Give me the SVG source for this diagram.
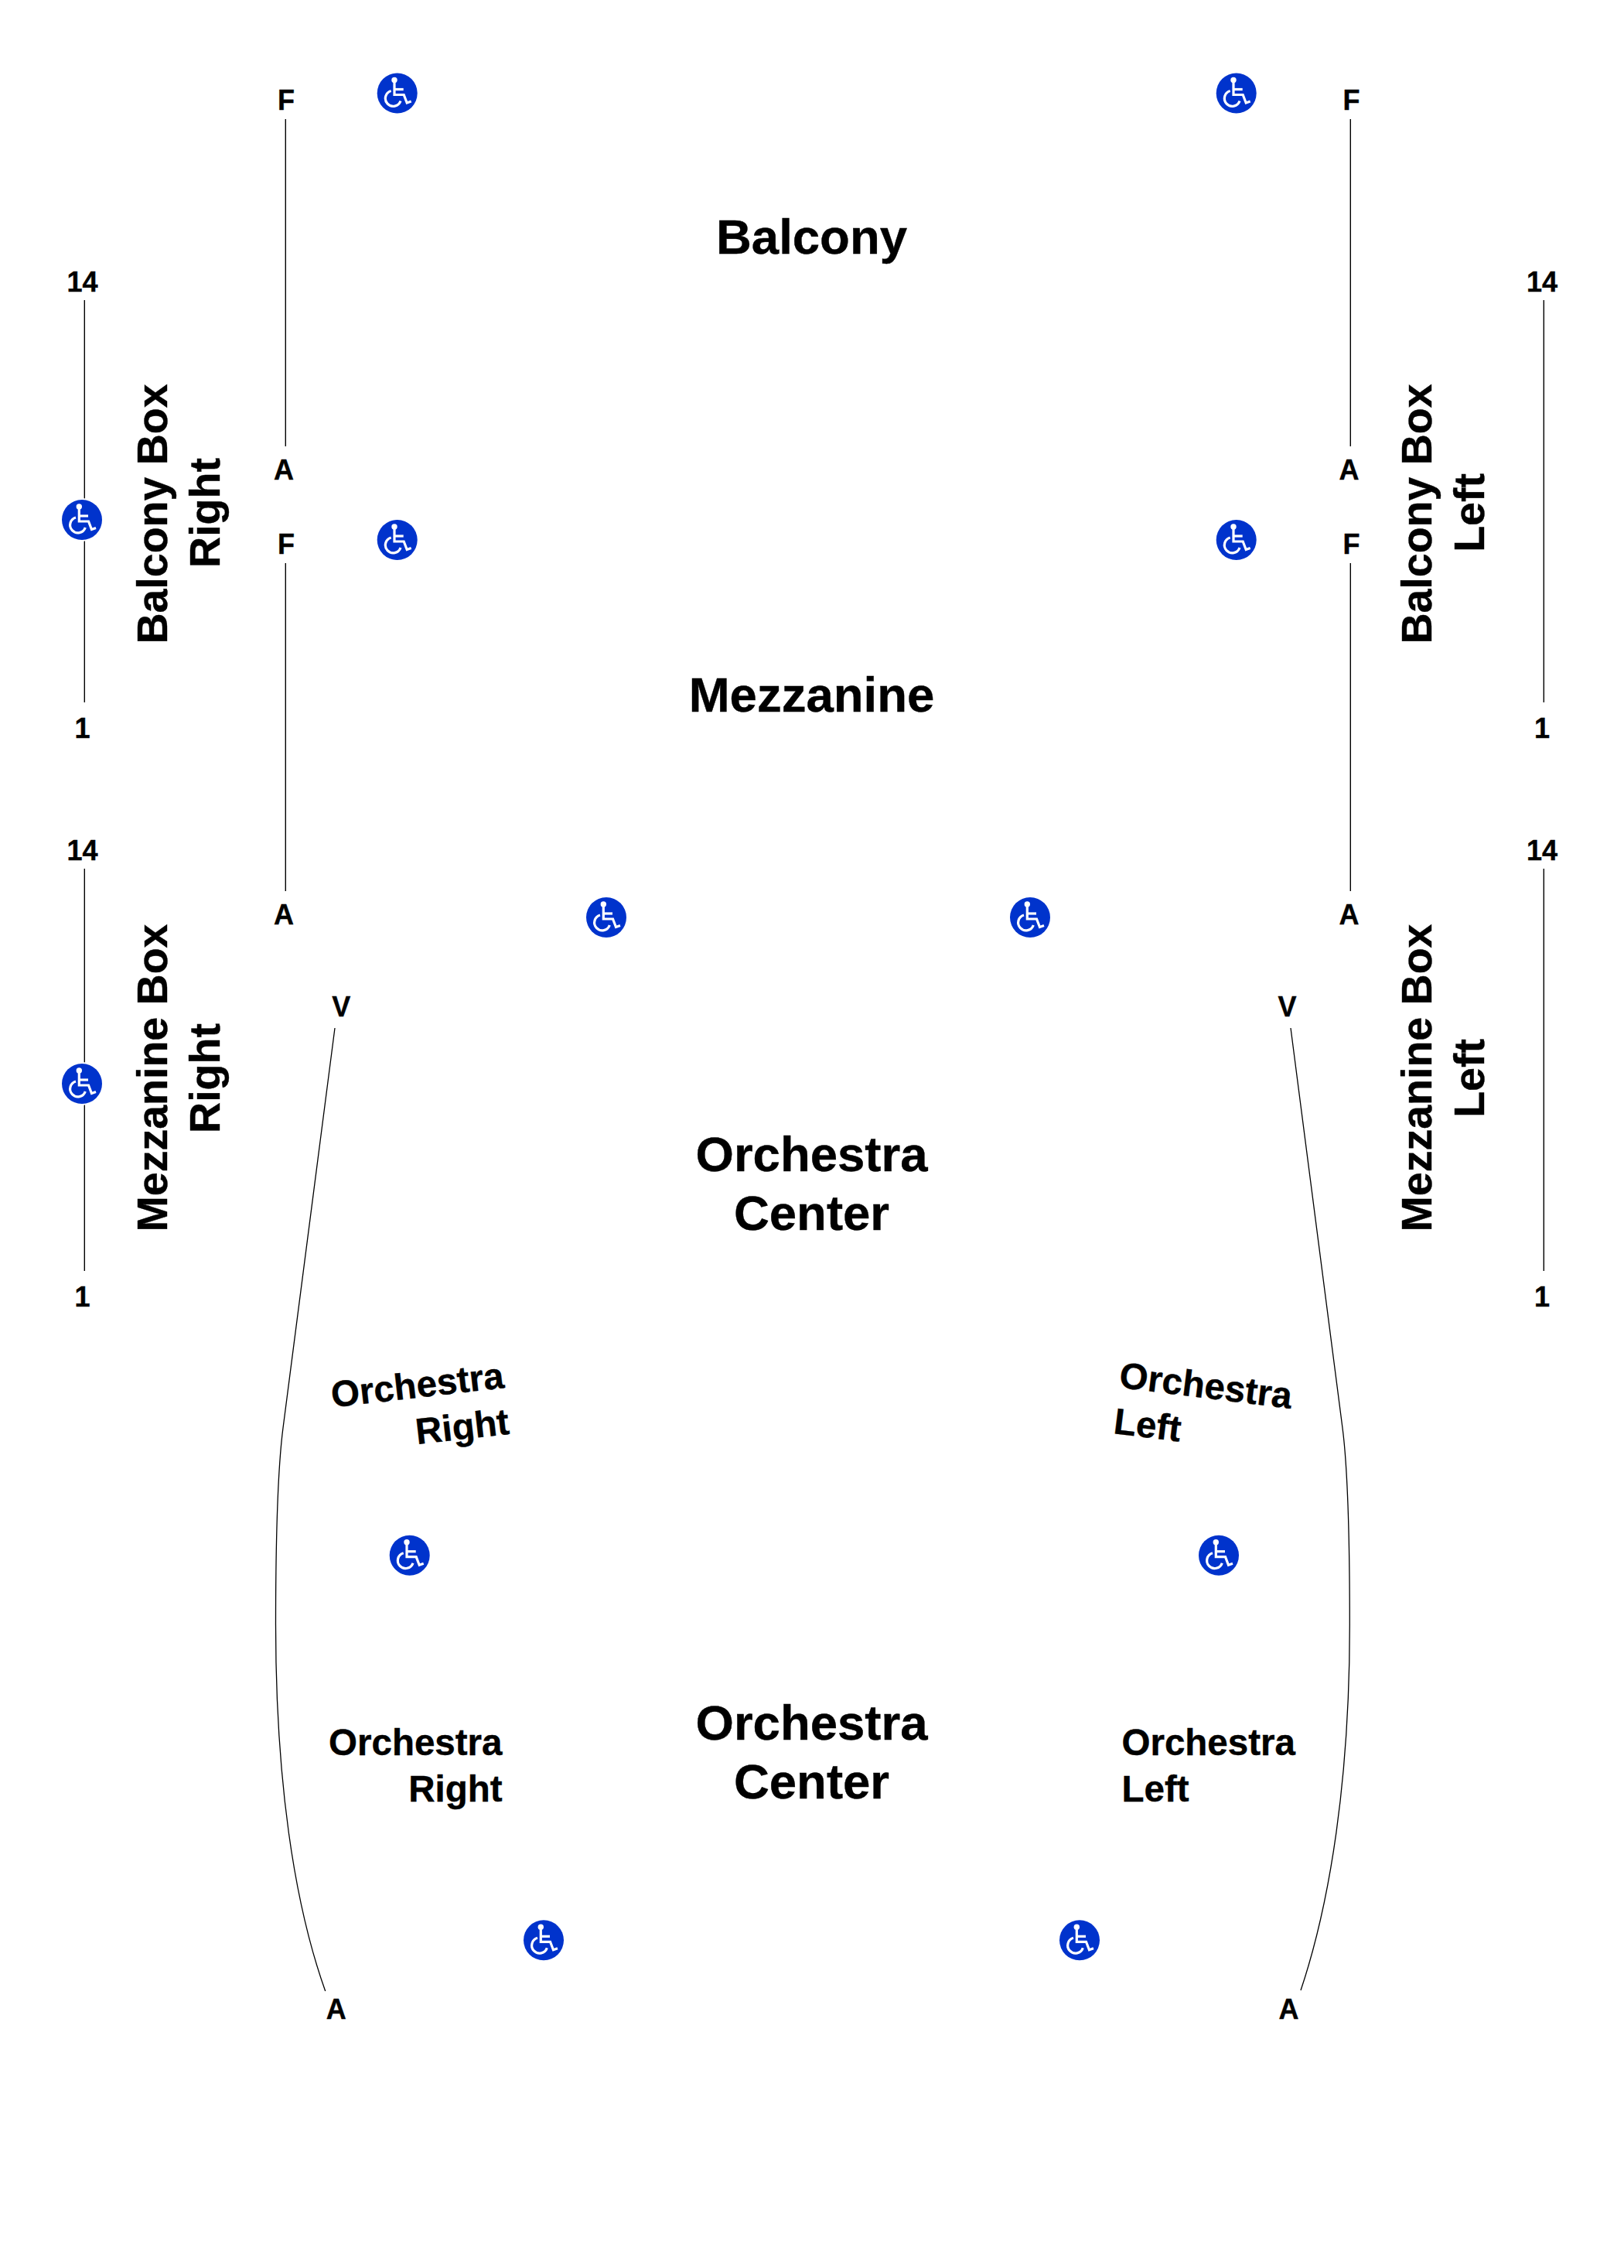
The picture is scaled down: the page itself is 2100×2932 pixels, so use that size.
<svg xmlns="http://www.w3.org/2000/svg" xmlns:xlink="http://www.w3.org/1999/xlink" width="2100" height="2932" viewBox="0 0 2100 2932">
<style>
text{font-family:"Liberation Sans",Arial,sans-serif;font-weight:bold;fill:#000;stroke:#000;stroke-width:.4}
.row{font-size:36px;text-anchor:middle}
.sec{font-size:63.5px;text-anchor:middle}
.box{font-size:55.5px;text-anchor:middle}
.orc{font-size:47.5px}
.conn{fill:none;stroke:#000;stroke-width:1.4}
.curve{fill:none;stroke:#000;stroke-width:1.3}
</style>
<defs>
<g id="wc">
<circle r="26" fill="#0033cc"/>
<g fill="none" stroke="#fff" stroke-width="3.2">
<path d="M-3.7 -14V2H8.5L12.5 12.5L18 10.5"/>
<path d="M-3.7 -5H8"/>
<path d="M-8 -3A10.1 10.1 0 1 0 4.3 10"/>
</g>
<circle cx="-3.7" cy="-17" r="3.7" fill="#fff"/>
</g>
<circle id="halo" r="28" fill="#fff"/>
</defs>
<rect width="2100" height="2932" fill="#fff"/>
<g id="connectors">
<path class="conn" d="M369.3 154V577M369.3 728V1152M1746.3 154V577M1746.3 728V1152M109.3 388V908M109.3 1123V1643M1996.3 388V908M1996.3 1123V1643"/>
<path class="curve" d="M433 1329L366 1846C359 1900 356.5 2000 356.5 2100C356.5 2300 380 2460 420.7 2574"/>
<path class="curve" d="M1669 1329L1736 1846C1743 1900 1745.3 2000 1745.3 2100C1745.3 2300 1720 2460 1682 2573"/>
</g>
<g id="section-labels">
<text id="balcony" class="sec" x="1049.5" y="328">Balcony</text>
<text id="mezzanine" class="sec" x="1049.5" y="920">Mezzanine</text>
<g id="orchestra-center-1"><text class="sec" x="1049.5" y="1514">Orchestra</text><text class="sec" x="1049.5" y="1590">Center</text></g>
<g id="orchestra-center-2"><text class="sec" x="1049.5" y="2248.5">Orchestra</text><text class="sec" x="1049.5" y="2325">Center</text></g>
</g>
<g id="box-labels">
<g id="balcony-box-right"><text class="box" transform="translate(215.5 664.5) rotate(-90)">Balcony Box</text><text class="box" transform="translate(284 663) rotate(-90)">Right</text></g>
<g id="balcony-box-left"><text class="box" transform="translate(1851 664.5) rotate(-90)">Balcony Box</text><text class="box" transform="translate(1919 663) rotate(-90)">Left</text></g>
<g id="mezzanine-box-right"><text class="box" transform="translate(215.5 1393.5) rotate(-90)">Mezzanine Box</text><text class="box" transform="translate(284 1394) rotate(-90)">Right</text></g>
<g id="mezzanine-box-left"><text class="box" transform="translate(1851 1393.5) rotate(-90)">Mezzanine Box</text><text class="box" transform="translate(1919 1394) rotate(-90)">Left</text></g>
</g>
<g id="orchestra-labels">
<g id="orchestra-right-upper" transform="translate(653 1794) rotate(-6.5)"><text class="orc" text-anchor="end">Orchestra</text><text class="orc" text-anchor="end" y="60">Right</text></g>
<g id="orchestra-left-upper" transform="translate(1446 1793.5) rotate(7)"><text class="orc">Orchestra</text><text class="orc" y="60">Left</text></g>
<g id="orchestra-right-lower"><text class="orc" text-anchor="end" x="649.5" y="2269">Orchestra</text><text class="orc" text-anchor="end" x="649.5" y="2329">Right</text></g>
<g id="orchestra-left-lower"><text class="orc" x="1450.5" y="2269">Orchestra</text><text class="orc" x="1450.5" y="2329">Left</text></g>
</g>
<g id="row-labels">
<text class="row" x="370" y="142">F</text><text class="row" x="367" y="620">A</text>
<text class="row" x="370" y="716">F</text><text class="row" x="367" y="1195">A</text>
<text class="row" x="1747.5" y="142">F</text><text class="row" x="1744.5" y="620">A</text>
<text class="row" x="1747.5" y="716">F</text><text class="row" x="1744.5" y="1195">A</text>
<text class="row" x="106.5" y="377">14</text><text class="row" x="106.5" y="954">1</text>
<text class="row" x="106.5" y="1112">14</text><text class="row" x="106.5" y="1689">1</text>
<text class="row" x="1994" y="377">14</text><text class="row" x="1994" y="954">1</text>
<text class="row" x="1994" y="1112">14</text><text class="row" x="1994" y="1689">1</text>
<text class="row" x="441.3" y="1314">V</text><text class="row" x="1664.5" y="1314">V</text>
<text class="row" x="434.7" y="2610">A</text><text class="row" x="1666.5" y="2610">A</text>
</g>
<g id="access-1"><use href="#wc" x="513.7" y="120.5"/></g>
<g id="access-2"><use href="#wc" x="1598.7" y="120.5"/></g>
<g id="access-3"><use href="#wc" x="513.7" y="698"/></g>
<g id="access-4"><use href="#wc" x="1598.7" y="698"/></g>
<g id="access-5"><use href="#halo" x="106" y="672"/><use href="#wc" x="106" y="672"/></g>
<g id="access-6"><use href="#halo" x="106" y="1401"/><use href="#wc" x="106" y="1401"/></g>
<g id="access-7"><use href="#wc" x="784" y="1186"/></g>
<g id="access-8"><use href="#wc" x="1332" y="1186"/></g>
<g id="access-9"><use href="#wc" x="529.7" y="2010.7"/></g>
<g id="access-10"><use href="#wc" x="1576" y="2010.7"/></g>
<g id="access-11"><use href="#wc" x="703" y="2508.3"/></g>
<g id="access-12"><use href="#wc" x="1396" y="2508.3"/></g>
</svg>
